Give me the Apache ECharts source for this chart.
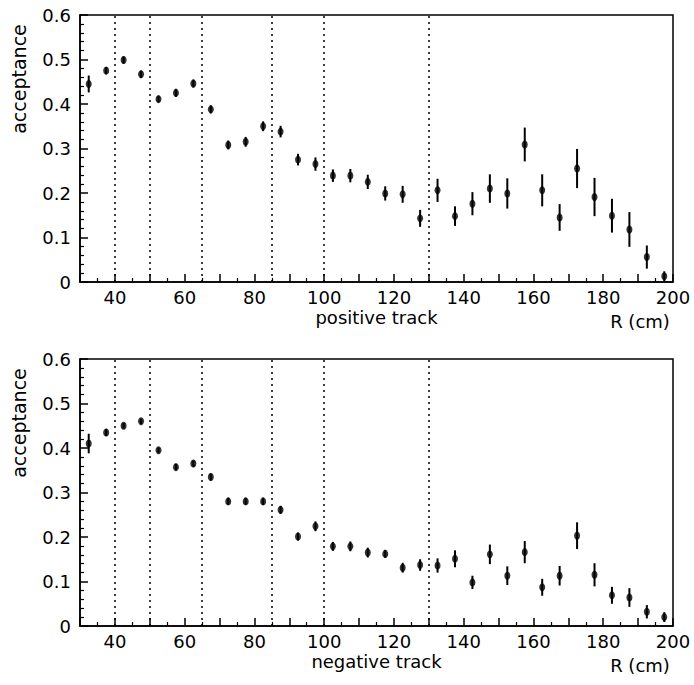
<!DOCTYPE html>
<html>
<head>
<meta charset="utf-8">
<script src="https://cdn.jsdelivr.net/npm/echarts@6/dist/echarts.min.js"></script>
<style>
  html, body { margin: 0; padding: 0; background: #fff; }
  #chart { width: 694px; height: 685px; }
</style>
</head>
<body>
<div id="chart"></div>
<script>
// bin centres in R (cm)
const rBins = [32.5, 37.5, 42.5, 47.5, 52.5, 57.5, 62.5, 67.5, 72.5, 77.5, 82.5, 87.5,
  92.5, 97.5, 102.5, 107.5, 112.5, 117.5, 122.5, 127.5, 132.5, 137.5, 142.5, 147.5,
  152.5, 157.5, 162.5, 167.5, 172.5, 177.5, 182.5, 187.5, 192.5, 197.5]

// positive track
const posAcc = [0.445, 0.475, 0.499, 0.467, 0.411, 0.425, 0.446, 0.388, 0.308, 0.315, 0.350, 0.338,
  0.275, 0.265, 0.239, 0.239, 0.225, 0.199, 0.197, 0.143, 0.206, 0.148, 0.176, 0.210,
  0.199, 0.309, 0.206, 0.145, 0.255, 0.191, 0.149, 0.118, 0.056, 0.013]
const posErr = [0.019, 0.008, 0.008, 0.008, 0.007, 0.009, 0.009, 0.009, 0.010, 0.011, 0.011, 0.013,
  0.013, 0.015, 0.014, 0.015, 0.016, 0.016, 0.019, 0.019, 0.026, 0.022, 0.026, 0.032,
  0.034, 0.038, 0.036, 0.030, 0.044, 0.043, 0.038, 0.039, 0.026, 0.011]

// negative track
const negAcc = [0.410, 0.435, 0.450, 0.460, 0.395, 0.357, 0.365, 0.335, 0.280, 0.280, 0.280, 0.261,
  0.201, 0.224, 0.179, 0.179, 0.165, 0.162, 0.131, 0.137, 0.136, 0.151, 0.098, 0.161,
  0.113, 0.166, 0.087, 0.113, 0.203, 0.115, 0.069, 0.064, 0.032, 0.020]
const negErr = [0.022, 0.008, 0.006, 0.006, 0.006, 0.007, 0.007, 0.008, 0.008, 0.008, 0.008, 0.009,
  0.009, 0.011, 0.010, 0.011, 0.011, 0.009, 0.011, 0.013, 0.016, 0.019, 0.015, 0.022,
  0.021, 0.025, 0.019, 0.022, 0.030, 0.026, 0.019, 0.021, 0.015, 0.011]

// dotted separators (cm)
const dividers = [40, 50, 65, 85, 100, 130]

const font = 'DejaVu Sans'
const tops = [15, 359]

function makeX(i, name) {
  return {
    gridIndex: i,
    type: 'value',
    min: 30,
    max: 200,
    interval: 10,
    name: name,
    nameLocation: 'middle',
    nameGap: 26,
    nameTextStyle: { color: '#000', fontSize: 18, fontFamily: font },
    axisLine: { lineStyle: { color: '#000', width: 1.5 } },
    axisTick: { inside: true, length: 8, lineStyle: { color: '#000', width: 1.5 } },
    minorTick: { show: true, splitNumber: 2, length: 4, lineStyle: { color: '#000', width: 1.2 } },
    axisLabel: {
      color: '#000', fontSize: 18, fontFamily: font, margin: 6,
      formatter: v => (v % 20 === 0 ? String(v) : '')
    },
    splitLine: { show: false }
  }
}

function makeY(i) {
  return {
    gridIndex: i,
    type: 'value',
    min: 0,
    max: 0.6,
    interval: 0.1,
    axisLine: { lineStyle: { color: '#000', width: 1.5 } },
    axisTick: { inside: true, length: 8, lineStyle: { color: '#000', width: 1.5 } },
    minorTick: { show: true, splitNumber: 5, length: 4, lineStyle: { color: '#000', width: 1.2 } },
    axisLabel: {
      color: '#000', fontSize: 18, fontFamily: font, margin: 9,
      formatter: v => (v === 0 ? '0' : v.toFixed(1))
    },
    splitLine: { show: false }
  }
}

function errorSeries(i, acc, err) {
  return {
    type: 'custom',
    xAxisIndex: i,
    yAxisIndex: i,
    silent: true,
    encode: { x: 0, y: [1, 2] },
    data: rBins.map((r, k) => [r, acc[k] - err[k], acc[k] + err[k]]),
    renderItem(params, api) {
      const p1 = api.coord([api.value(0), api.value(1)])
      const p2 = api.coord([api.value(0), api.value(2)])
      return {
        type: 'line',
        shape: { x1: p1[0], y1: p1[1], x2: p2[0], y2: p2[1] },
        style: { stroke: '#000', lineWidth: 2 }
      }
    }
  }
}

function pointSeries(i, acc) {
  return {
    type: 'scatter',
    xAxisIndex: i,
    yAxisIndex: i,
    symbol: 'circle',
    symbolSize: [6, 8],
    itemStyle: { color: '#000' },
    data: rBins.map((r, k) => [r, acc[k]]),
    markLine: {
      silent: true,
      symbol: 'none',
      label: { show: false },
      lineStyle: { color: '#000', type: [2, 4], width: 1.5 },
      data: dividers.map(d => ({ xAxis: d }))
    }
  }
}

const chart = echarts.init(document.getElementById('chart'), null, { renderer: 'svg' })

chart.setOption({
  animation: false,
  backgroundColor: '#fff',
  grid: tops.map(t => ({
    left: 80, top: t, width: 593, height: 267,
    show: true, borderColor: '#000', borderWidth: 1.5
  })),
  xAxis: [makeX(0, 'positive track'), makeX(1, 'negative track')],
  yAxis: [makeY(0), makeY(1)],
  series: [
    errorSeries(0, posAcc, posErr),
    pointSeries(0, posAcc),
    errorSeries(1, negAcc, negErr),
    pointSeries(1, negAcc)
  ],
  graphic: tops.flatMap(t => [
    {
      type: 'text',
      x: 19, y: t + 64,
      rotation: Math.PI / 2,
      style: {
        text: 'acceptance', fill: '#000', font: '19px "' + font + '"',
        align: 'center', verticalAlign: 'middle'
      }
    },
    {
      type: 'text',
      x: 640, y: t + 306,
      style: {
        text: 'R (cm)', fill: '#000', font: '18px "' + font + '"',
        align: 'center', verticalAlign: 'middle'
      }
    }
  ])
})
</script>
</body>
</html>
